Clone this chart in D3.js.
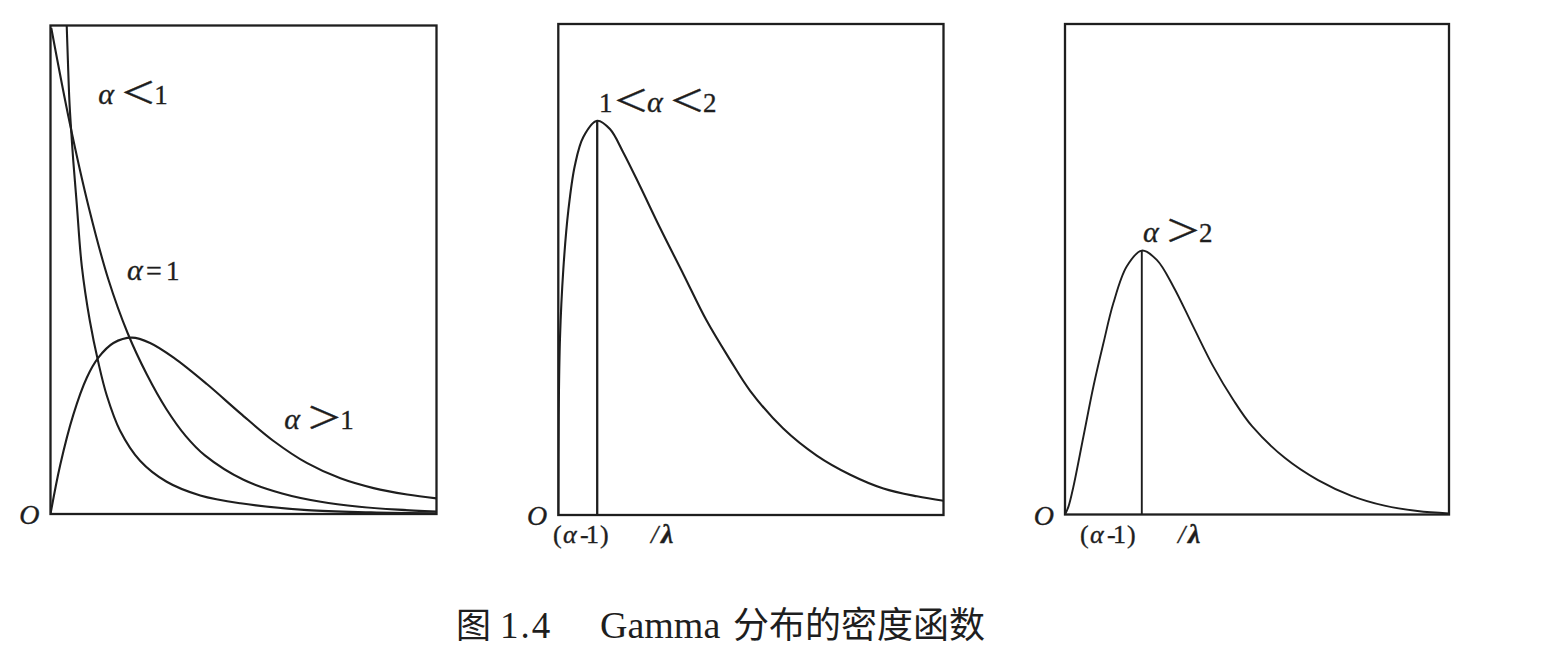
<!DOCTYPE html>
<html>
<head>
<meta charset="utf-8">
<script src="https://cdn.jsdelivr.net/npm/d3@7"></script>
<style>
  html, body { margin: 0; padding: 0; background: #ffffff; }
  svg { display: block; }
  text { font-family: "Liberation Serif", "Times New Roman", serif; fill: #1e1e1e; }
  .cjk { font-family: "Noto Sans CJK SC", sans-serif; }
  .lbl text { stroke: #1e1e1e; stroke-width: 0.35; }
</style>
</head>
<body>
<svg id="chart" width="1542" height="658"></svg>
<script>
// ---- Data (x: % of panel width, y: % of panel height) ----
const panel1AlphaLess1 = [[4.2,100],[4.5,93],[4.9,84.5],[5.4,78],[5.9,72.3],[6.8,63.5],[8.1,50.8],[10.2,39.5],[12.4,31.0],[14.6,24.2],[18.0,17.1],[23.2,10.9],[30.1,6.6],[38.8,3.8],[49.2,2.2],[66.5,0.8],[83.0,0.35],[100,0.15]];
const panel1AlphaEq1 = [[0.2,99.5],[5,80],[10,62.5],[15,48],[20,37],[25,28.5],[30,21.5],[35,16],[40,12],[50,7],[60,4.2],[70,2.5],[80,1.5],[90,0.9],[100,0.5]];
const panel1AlphaGt1 = [[0,0],[2.5,10.0],[5.9,20.3],[9.4,27.9],[12.4,32.0],[16.3,35.0],[21.1,36.1],[25.8,35.0],[31.9,32.0],[40.5,26.6],[49.2,20.6],[57.7,15.0],[66.5,10.4],[75.1,7.3],[83.7,5.3],[92.4,4.0],[100,3.2]];
const panel2Curve = [[0,0],[0.1,20],[0.44,36],[1.3,50],[2.6,62],[4.3,71.2],[6.5,77.0],[10.1,80.3],[13.4,78.6],[16.9,73.8],[21.2,67.0],[26.4,58.5],[32.5,49.0],[38.5,39.6],[44.6,31.6],[49.8,25.3],[58.4,17.6],[67.1,12.1],[75.8,8.2],[84.4,5.4],[93.1,3.8],[100,2.9]];
const panel3Curve = [[0,0],[0.9,1.6],[2.2,5.7],[4.8,15.9],[7.4,26.1],[10.0,34.9],[12.6,43.1],[16.1,50.6],[20.0,53.8],[23.9,51.9],[28.2,46.5],[33.4,38.3],[38.6,30.2],[43.8,23.4],[48.7,18.0],[57.3,11.5],[65.9,7.0],[74.6,3.8],[83.2,1.8],[91.8,0.7],[100,0.2]];
const modeX = [10.1, 20.0];
const modeY = [80.3, 53.8];

// ---- Text ----
const curveLabels = ["α＜1", "α=1", "α＞1", "1＜α＜2", "α＞2"];
const originLabel = "O";
const modeLabel = ["(", "α", "-", "1", ")", "/", "λ"];
const captionParts = ["图", "1.4", "Gamma", "分布的密度函数"];

// ---- Layout ----
const svg = d3.select("#chart");
svg.append("rect").attr("width", 1542).attr("height", 658).attr("fill", "#ffffff");

const boxes = [
  {left: 50.5, right: 436.5, top: 25.5, bottom: 514},
  {left: 558.3, right: 943.5, top: 24, bottom: 515},
  {left: 1065, right: 1449, top: 24, bottom: 514.5}
];
const ink = "#1e1e1e";

const panels = boxes.map((b, i) => {
  const x = d3.scaleLinear().domain([0, 100]).range([b.left, b.right]);
  const y = d3.scaleLinear().domain([0, 100]).range([b.bottom, b.top]);
  const g = svg.append("g");
  g.append("clipPath").attr("id", "clip" + i).append("rect")
    .attr("x", b.left).attr("y", b.top).attr("width", b.right - b.left).attr("height", b.bottom - b.top);
  return {x, y, g, b, i};
});

const line = (p) => d3.line().x(d => p.x(d[0])).y(d => p.y(d[1])).curve(d3.curveCatmullRom.alpha(0.5));

function drawCurve(p, data, w) {
  p.g.append("path").datum(data)
    .attr("d", line(p))
    .attr("fill", "none")
    .attr("stroke", ink)
    .attr("stroke-width", w)
    .attr("stroke-linejoin", "round")
    .attr("clip-path", `url(#clip${p.i})`);
}

drawCurve(panels[0], panel1AlphaLess1, 2.1);
drawCurve(panels[0], panel1AlphaEq1, 2.1);
drawCurve(panels[0], panel1AlphaGt1, 2.1);
drawCurve(panels[1], panel2Curve, 2.1);
drawCurve(panels[2], panel3Curve, 1.9);

// vertical lines at the mode
[panels[1], panels[2]].forEach((p, k) => {
  p.g.append("line")
    .attr("x1", p.x(modeX[k])).attr("x2", p.x(modeX[k]))
    .attr("y1", p.y(0)).attr("y2", p.y(modeY[k]))
    .attr("stroke", ink).attr("stroke-width", k === 0 ? 2.3 : 1.9);
});

// frames + origin labels
panels.forEach(p => {
  p.g.append("rect")
    .attr("x", p.x(0)).attr("y", p.y(100))
    .attr("width", p.x(100) - p.x(0)).attr("height", p.y(0) - p.y(100))
    .attr("fill", "none").attr("stroke", ink).attr("stroke-width", 2.3);
  p.g.append("g").attr("class", "lbl").append("text")
    .attr("x", p.x(0) - 11).attr("y", p.y(0) + 10)
    .attr("text-anchor", "end")
    .attr("font-size", 28).attr("font-style", "italic")
    .text(originLabel);
});

// curve labels: each glyph placed as its own text, wide relation signs
function label(p, str, dx, dy) {
  const x0 = p.x(dx), y0 = p.y(dy);
  const g = p.g.append("g").attr("class", "lbl");
  let cx = x0;
  for (const ch of str) {
    if (ch === "＜" || ch === "＞") {
      g.append("text").attr("class", "cjk")
        .attr("transform", `translate(${cx - 4},${y0 - 1}) scale(1.2,1)`)
        .attr("font-size", 30).text(ch);
      cx += 31;
    } else if (ch === "α") {
      g.append("text").attr("x", cx - 1).attr("y", y0).attr("font-size", 30).attr("font-style", "italic").text(ch);
      cx += 25;
    } else if (ch === "=") {
      g.append("text").attr("x", cx - 7).attr("y", y0).attr("font-size", 28).text(ch);
      cx += 14;
    } else {
      g.append("text").attr("x", cx - 1).attr("y", y0).attr("font-size", 27).text(ch);
      cx += 17;
    }
  }
}
label(panels[0], curveLabels[0], 12.6, 84.0);
label(panels[0], curveLabels[1], 20.1, 48.0);
label(panels[0], curveLabels[2], 60.8, 17.3);
label(panels[1], curveLabels[3], 10.8, 82.1);
label(panels[2], curveLabels[4], 20.6, 55.6);

// mode labels below axis
const modeStart = [-1.4, 3.9];
const modeOffsets = [0, 10, 27, 33, 47, 98, 108];
[panels[1], panels[2]].forEach((p, k) => {
  const x0 = p.x(modeStart[k]), y0 = p.y(0) + 28;
  const g = p.g.append("g").attr("class", "lbl");
  modeLabel.forEach((s, j) => {
    const t = g.append("text").attr("x", x0 + modeOffsets[j]).attr("y", y0).attr("font-size", s === "λ" ? 28 : 26).text(s);
    if (s === "α") t.attr("font-style", "italic");
    if (s === "λ") t.attr("font-style", "italic").attr("font-weight", "bold");
    if (s === "/") t.attr("font-style", "italic");
  });
});

// caption
const capY = 638;
svg.append("text").attr("class", "cjk").attr("x", 456).attr("y", capY).attr("font-size", 35).text(captionParts[0]);
svg.append("text").attr("x", 500).attr("y", capY).attr("font-size", 37).attr("letter-spacing", 2).text(captionParts[1]);
svg.append("text").attr("x", 600).attr("y", capY).attr("font-size", 38).text(captionParts[2]);
svg.append("text").attr("class", "cjk").attr("x", 733).attr("y", capY).attr("font-size", 36).text(captionParts[3]);
</script>
</body>
</html>
